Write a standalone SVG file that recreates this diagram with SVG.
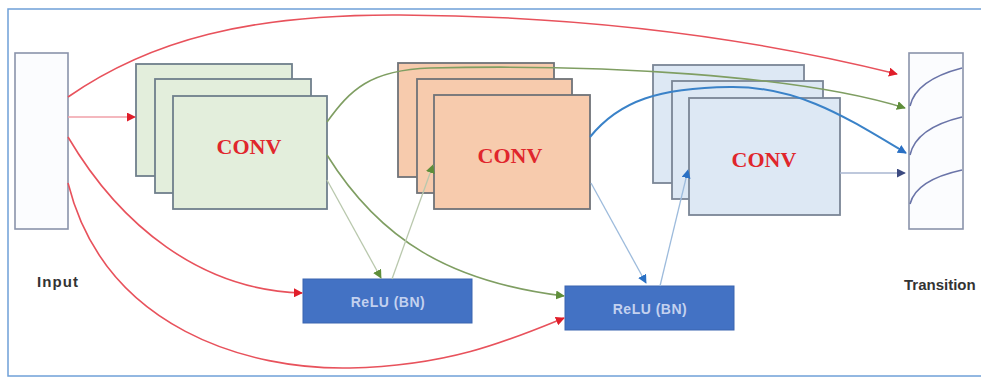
<svg xmlns="http://www.w3.org/2000/svg" width="981" height="379" viewBox="0 0 981 379">
  <style>
    .frame { fill: #ffffff; stroke: #6fa0d8; stroke-width: 1.5; }
    .plain { fill: #fbfcfe; stroke: #8a93ab; stroke-width: 1.6; }
    .g { fill: #e3eedc; stroke: #6f7f8c; stroke-width: 1.8; }
    .o { fill: #f7cbad; stroke: #6f7378; stroke-width: 1.8; }
    .b { fill: #dde8f4; stroke: #7a8696; stroke-width: 1.8; }
    .relu { fill: #4372c4; stroke: #3a64b0; stroke-width: 1; }
    .conv { font-family: "Liberation Serif", serif; font-weight: bold; font-size: 22px; fill: #e0262c; text-anchor: middle; }
    .relut { font-family: "Liberation Sans", Arial, sans-serif; font-size: 14px; fill: #c3d1ef; text-anchor: middle; font-weight: bold; letter-spacing: 0.5px; }
    .lbl { font-family: "Liberation Sans", Arial, sans-serif; font-size: 15px; font-weight: bold; fill: #333333; letter-spacing: 1.1px; }
    .lbl2 { font-family: "Liberation Sans", Arial, sans-serif; font-size: 15px; font-weight: bold; fill: #333333; }
    .red { fill: none; stroke: #e8525c; stroke-width: 1.6; }
    .redl { fill: none; stroke: #f0a0a8; stroke-width: 1.6; }
    .grn { fill: none; stroke: #7f9e62; stroke-width: 1.6; }
    .grnl { fill: none; stroke: #b9c8ad; stroke-width: 1.3; }
    .blu { fill: none; stroke: #3a82c8; stroke-width: 2; }
    .blul { fill: none; stroke: #9dbbdc; stroke-width: 1.3; }
    .nav { fill: none; stroke: #a8b6d0; stroke-width: 1.3; }
    .tr { fill: none; stroke: #6a74a8; stroke-width: 1.6; }
  </style>
  <defs>
    <marker id="ar" viewBox="0 0 10 10" refX="9" refY="5" markerWidth="9" markerHeight="9" markerUnits="userSpaceOnUse" orient="auto">
      <path d="M0,0 L10,5 L0,10 z" fill="#e01e2a"/>
    </marker>
    <marker id="ag" viewBox="0 0 10 10" refX="9" refY="5" markerWidth="9" markerHeight="9" markerUnits="userSpaceOnUse" orient="auto">
      <path d="M0,0 L10,5 L0,10 z" fill="#5f8e3a"/>
    </marker>
    <marker id="ab" viewBox="0 0 10 10" refX="9" refY="5" markerWidth="9" markerHeight="9" markerUnits="userSpaceOnUse" orient="auto">
      <path d="M0,0 L10,5 L0,10 z" fill="#2a70c4"/>
    </marker>
    <marker id="an" viewBox="0 0 10 10" refX="9" refY="5" markerWidth="9" markerHeight="9" markerUnits="userSpaceOnUse" orient="auto">
      <path d="M0,0 L10,5 L0,10 z" fill="#3c4a80"/>
    </marker>
  </defs>

  <rect class="frame" x="8" y="9" width="990" height="367"/>

  <g id="input">
    <rect class="plain" x="15" y="53" width="53" height="176"/>
    <text class="lbl" x="37" y="287">Input</text>
  </g>

  <g id="conv1">
    <rect class="g" x="136" y="64" width="156" height="112"/>
    <rect class="g" x="155" y="79" width="156" height="114"/>
    <rect class="g" x="173" y="96" width="154" height="113"/>
    <text class="conv" x="249" y="154">CONV</text>
  </g>

  <g id="conv2">
    <rect class="o" x="398" y="63" width="156" height="114"/>
    <rect class="o" x="417" y="79" width="155" height="114"/>
    <rect class="o" x="434" y="95" width="156" height="114"/>
    <text class="conv" x="510" y="163">CONV</text>
  </g>

  <g id="conv3">
    <rect class="b" x="653" y="65" width="151" height="118"/>
    <rect class="b" x="672" y="81" width="151" height="118"/>
    <rect class="b" x="689" y="98" width="151" height="117"/>
    <text class="conv" x="764" y="167">CONV</text>
  </g>

  <g id="relu1">
    <rect class="relu" x="303" y="279" width="169" height="44"/>
    <text class="relut" x="388" y="307">ReLU (BN)</text>
  </g>

  <g id="relu2">
    <rect class="relu" x="565" y="286" width="169" height="44"/>
    <text class="relut" x="650" y="314">ReLU (BN)</text>
  </g>

  <g id="transition">
    <rect class="plain" x="909" y="53" width="54" height="176"/>
    <path class="tr" d="M910,106 Q916,80 962,68"/>
    <path class="tr" d="M910,155 Q916,128 962,117"/>
    <path class="tr" d="M910,204 Q916,180 962,170"/>
    <text class="lbl2" x="904" y="290">Transition</text>
  </g>

  <g id="connectors">
    <!-- red skip paths out of the input block -->
    <path class="red" d="M68,97 C150,40 250,14 400,15 C600,16 760,40 897,74" marker-end="url(#ar)"/>
    <path class="redl" d="M68,117 L135,117" marker-end="url(#ar)"/>
    <path class="red" d="M68,137 C120,225 200,290 302,293" marker-end="url(#ar)"/>
    <path class="red" d="M68,183 C105,330 250,370 350,368 C450,366 510,340 564,318" marker-end="url(#ar)"/>
    <!-- green paths out of the first conv stack -->
    <path class="grn" d="M327,122 C350,90 370,70 430,68 C600,64 800,75 905,108" marker-end="url(#ag)"/>
    <path class="grn" d="M327,155 C380,240 450,282 564,296" marker-end="url(#ag)"/>
    <path class="grnl" d="M327,180 L381,278" marker-end="url(#ag)"/>
    <path class="grnl" d="M392,279 L433,165" marker-end="url(#ag)"/>
    <!-- blue paths out of the second conv stack -->
    <path class="blu" d="M590,137 C620,100 660,88 730,87 C800,86 850,120 906,153" marker-end="url(#ab)"/>
    <path class="blul" d="M591,183 L646,283" marker-end="url(#ab)"/>
    <path class="blul" d="M660,286 L688,170" marker-end="url(#ab)"/>
    <!-- third conv stack into the transition block -->
    <path class="nav" d="M840,173 L905,173" marker-end="url(#an)"/>
  </g>
</svg>
